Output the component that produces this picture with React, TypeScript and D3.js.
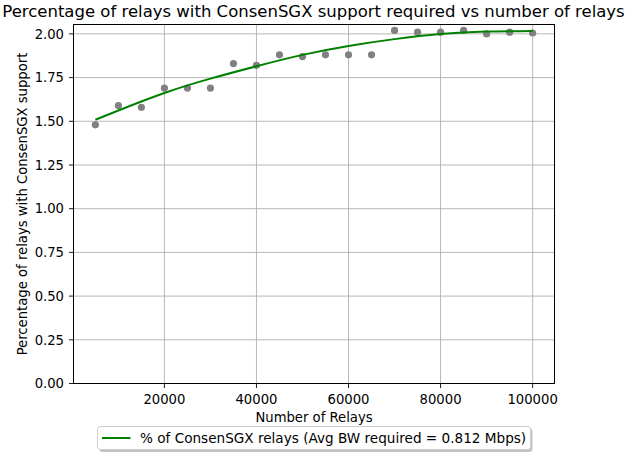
import React from "react";
import * as d3 from "d3";

const relays = [5000, 10000, 15000, 20000, 25000, 30000, 35000, 40000, 45000, 50000, 55000, 60000, 65000, 70000, 75000, 80000, 85000, 90000, 95000, 100000];
const percentages = [1.48, 1.59, 1.58, 1.69, 1.69, 1.69, 1.83, 1.82, 1.88, 1.87, 1.88, 1.88, 1.88, 2.02, 2.01, 2.01, 2.02, 2.0, 2.01, 2.005];

const fitRelays = [5000, 10000, 20000, 30000, 40000, 50000, 60000, 70000, 80000, 90000, 100000];
const fitValues = [1.509, 1.562, 1.662, 1.744, 1.815, 1.88, 1.931, 1.97, 1.999, 2.013, 2.017];

const xTicks = [20000, 40000, 60000, 80000, 100000];
const yTicks = [0, 0.25, 0.5, 0.75, 1.0, 1.25, 1.5, 1.75, 2.0];

const title = "Percentage of relays with ConsenSGX support required vs number of relays";
const xLabel = "Number of Relays";
const yLabel = "Percentage of relays with ConsenSGX support";
const legendLabel = "% of ConsenSGX relays (Avg BW required = 0.812 Mbps)";

export default function App() {
  const W = 629, H = 456;
  const left = 73.5, right = 554.5, top = 24.5, bottom = 383.5;
  const x = d3.scaleLinear().domain([250, 104750]).range([left, right]);
  const y = d3.scaleLinear().domain([0, 2.0537]).range([bottom, top]);
  const line = d3.line<number>().x((_, i) => x(fitRelays[i])).y((d) => y(d)).curve(d3.curveNatural);
  const font = "DejaVu Sans, sans-serif";
  return (
    <div style={{ position: "absolute", left: 0, top: 0 }}>
      <svg width={W} height={H} style={{ display: "block" }} fontFamily={font}>
        <rect width={W} height={H} fill="white" />
        <text x={313.5} y={17} textAnchor="middle" fontSize={16.5} fill="#000">{title}</text>
        {xTicks.map((t) => (
          <line key={"gx" + t} x1={x(t)} x2={x(t)} y1={top} y2={bottom} stroke="#b0b0b0" strokeWidth={0.9} />
        ))}
        {yTicks.map((t) => (
          <line key={"gy" + t} x1={left} x2={right} y1={y(t)} y2={y(t)} stroke="#b0b0b0" strokeWidth={0.9} />
        ))}
        {relays.map((r, i) => (
          <circle key={"p" + r} cx={x(r)} cy={y(percentages[i])} r={3.6} fill="#808080" />
        ))}
        <path d={line(fitValues) || ""} fill="none" stroke="#008000" strokeWidth={2} />
        <rect x={left} y={top} width={right - left} height={bottom - top} fill="none" stroke="#000" strokeWidth={1} />
        {xTicks.map((t) => (
          <g key={"tx" + t}>
            <line x1={x(t)} x2={x(t)} y1={bottom} y2={bottom + 4.5} stroke="#000" strokeWidth={0.9} />
            <text x={x(t)} y={bottom + 20.5} textAnchor="middle" fontSize={13.2} fill="#000">{t}</text>
          </g>
        ))}
        {yTicks.map((t) => (
          <g key={"ty" + t}>
            <line x1={left - 4.5} x2={left} y1={y(t)} y2={y(t)} stroke="#000" strokeWidth={0.9} />
            <text x={left - 9.5} y={y(t) + 4.8} textAnchor="end" fontSize={13.2} fill="#000">{t.toFixed(2)}</text>
          </g>
        ))}
        <text x={314} y={421.5} textAnchor="middle" fontSize={13.2} fill="#000">{xLabel}</text>
        <text transform={`translate(26.5,${(top + bottom) / 2}) rotate(-90)`} textAnchor="middle" fontSize={13.2} fill="#000">{yLabel}</text>
        <rect x={99.5} y={428.5} width={433} height={23.5} rx={3} fill="#888" opacity={0.5} />
        <rect x={97.5} y={426.5} width={433} height={23} rx={3} fill="white" stroke="#ccc" strokeWidth={1} />
        <line x1={102} x2={130.5} y1={438} y2={438} stroke="#008000" strokeWidth={2} />
        <text x={140} y={442.8} fontSize={13.6} fill="#000">{legendLabel}</text>
      </svg>
    </div>
  );
}
